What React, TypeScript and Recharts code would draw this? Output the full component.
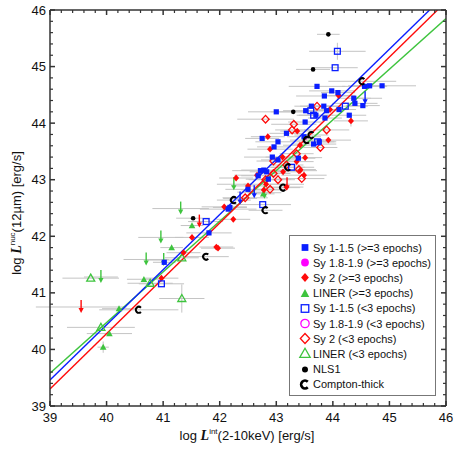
import { ScatterChart, Scatter, XAxis, YAxis, ErrorBar, ReferenceLine } from "recharts";

// axis ticks
const majorTicks = [39, 40, 41, 42, 43, 44, 45, 46];
const minorTicks = [
  39.2, 39.4, 39.6, 39.8, 40.2, 40.4, 40.6, 40.8, 41.2, 41.4, 41.6, 41.8, 42.2, 42.4,
  42.6, 42.8, 43.2, 43.4, 43.6, 43.8, 44.2, 44.4, 44.6, 44.8, 45.2, 45.4, 45.6, 45.8,
];

// [log Lx, log L12, x error, y error]
const sy1Many = [
  [43.0, 44.2, 0.5], [42.75, 43.73, 0.3], [42.96, 43.58, 0.3], [43.03, 43.67, 0.4],
  [43.18, 43.82, 0.3], [43.51, 44.02, 0.3], [42.93, 43.4, 0.5], [43.03, 43.35, 0.3],
  [43.39, 43.38, 0.3], [42.78, 43.17, 0.4], [42.72, 43.16, 0.5], [42.83, 43.14, 0.3],
  [42.86, 43.01, 0.4], [43.49, 43.76, 0.3], [43.66, 43.63, 0.4], [43.76, 43.67, 0.3],
  [43.72, 44.65, 0.5], [44.56, 44.65, 0.4], [44.65, 44.66, 0.3], [44.87, 44.66, 0.6],
  [43.98, 44.57, 0.4], [44.09, 44.54, 0.3], [43.85, 44.48, 0.5], [44.37, 44.44, 0.3],
  [44.39, 44.35, 0.4], [44.53, 44.31, 0.3], [43.62, 44.3, 0.3], [43.84, 44.3, 0.3],
  [43.89, 44.22, 0.3], [44.11, 44.24, 0.3], [43.52, 44.22, 0.4], [43.7, 44.14, 0.3],
  [43.86, 44.09, 0.3], [44.29, 44.14, 0.3], [42.5, 42.83, 0.4], [42.15, 42.48, 0.5],
  [42.18, 42.51, 0.3], [41.81, 42.06, 0.4], [41.02, 41.54, 0.2], [42.68, 43.07, 0.3],
];
const sy1Few = [
  [44.08, 45.27, 0.5, 0.15], [44.04, 44.98, 0.4], [44.22, 44.3, 0.4], [43.61, 44.22, 0.3],
  [43.66, 44.14, 0.3], [43.73, 43.67, 0.3], [43.27, 43.22, 0.4], [42.76, 42.56, 0.5],
  [41.76, 42.26, 0.3], [40.97, 41.16, 0.4],
];
const sy2Many = [
  [44.1, 44.49, 0.3], [43.95, 44.24, 0.3], [44.32, 44.04, 0.3, 0.1], [43.37, 43.86, 0.3],
  [42.85, 43.76, 0.3], [42.89, 43.54, 0.4], [43.42, 43.61, 0.3], [43.92, 43.7, 0.4],
  [43.51, 43.39, 0.3], [43.11, 43.4, 0.3], [43.36, 43.32, 0.3], [43.12, 43.14, 0.3],
  [43.49, 43.08, 0.4, 0.1], [42.66, 43.08, 0.4], [43.18, 42.87, 0.3], [42.78, 42.82, 0.4],
  [42.29, 43.03, 0.3], [42.5, 42.89, 0.3], [42.82, 42.92, 0.4], [42.08, 42.52, 0.4],
  [42.24, 42.3, 0.3], [41.51, 41.98, 0.3], [41.94, 41.81, 0.3], [41.97, 41.79, 0.3],
  [41.36, 41.71, 0.3], [40.97, 41.26, 0.3], [43.42, 43.16, 0.3],
];
const sy2Few = [
  [42.81, 44.07, 0.5], [43.31, 43.98, 0.4], [43.28, 43.88, 0.3], [43.89, 43.88, 0.4],
  [43.72, 44.3, 0.3], [43.78, 43.57, 0.3], [43.36, 43.46, 0.3], [42.95, 43.33, 0.3],
  [43.18, 43.26, 0.3], [43.4, 43.18, 0.3], [43.45, 43.02, 0.4], [42.95, 43.11, 0.3],
  [42.89, 42.83, 0.3], [42.81, 43.0, 0.3], [42.45, 42.68, 0.4], [43.03, 43.0, 0.3],
];
const linerMany = [
  [41.15, 41.8, 0.2], [40.66, 41.24, 0.3], [40.22, 40.72, 0.3], [40.05, 40.28, 0.4],
  [39.94, 40.04, 0.1, 0.1], [41.51, 42.19, 0.2], [42.77, 42.75, 0.2],
];
const linerFew = [
  [39.72, 41.26, 0.5], [41.33, 41.62, 0.3], [40.77, 41.17, 0.4], [41.33, 40.9, 0.4, 0.25],
  [39.9, 40.39, 0.6],
];
const linerLimits = [
  [39.9, 41.28, 0.3], [40.96, 41.98, 0.4], [40.7, 41.59, 0.4], [41.01, 41.58, 0.3],
  [41.31, 42.49, 0.5], [42.25, 42.92, 0.3], [42.79, 42.77, 0.3],
];
const sy2Limits = [[39.55, 40.75, 0.8], [41.64, 42.26, 0.2], [43.19, 42.92, 0.3]];
const sy1Limits = [[42.36, 42.67, 0.3], [42.61, 42.78, 0.3], [44.57, 44.44, 0.3]];
const nls1 = [[43.92, 45.57, 0.2], [43.65, 44.95, 0.3], [43.3, 44.2, 0.4], [41.53, 42.32, 0.3]];
const comptonThick = [
  [44.52, 44.74, 0.6], [43.54, 43.7, 0.3], [43.62, 43.79, 0.3], [43.21, 43.22, 0.3],
  [43.12, 42.86, 0.3], [42.81, 42.46, 0.3], [42.25, 42.64, 0.3], [41.76, 41.64, 0.4],
  [40.57, 40.7, 0.7],
];

// fitted relations (end points)
const fitSy1 = [{ x: 39, y: 39.46 }, { x: 45.71, y: 46 }];
const fitSy2 = [{ x: 39, y: 39.3 }, { x: 45.85, y: 46 }];
const fitLiner = [{ x: 39, y: 39.58 }, { x: 46, y: 45.85 }];

const BLUE = "#0a1eff";
const RED = "#ff0a0a";
const GREEN = "#3ec43e";
const MAGENTA = "#ff00ff";
const FONT = "'Liberation Sans', Arial, Helvetica, sans-serif";

const toPts = (rows: number[][]) =>
  rows.map(([x, y, xe = 0, ye = 0]) => ({ x, y, xe, ye }));

type Kind = "sq" | "osq" | "dia" | "odia" | "tri" | "otri" | "circ" | "ocirc" | "dot" | "ct" | "arrow";

function Marker({ cx, cy, kind, color = "#000", s = 1 }: { cx: number; cy: number; kind: Kind; color?: string; s?: number }) {
  if (cx == null || cy == null) return null;
  switch (kind) {
    case "sq":
      return <rect x={cx - 2.6 * s} y={cy - 2.6 * s} width={5.2 * s} height={5.2 * s} fill={BLUE} />;
    case "osq":
      return <rect x={cx - 2.9 * s} y={cy - 2.9 * s} width={5.8 * s} height={5.8 * s} fill="none" stroke={BLUE} strokeWidth={1.3} />;
    case "dia":
      return <path d={`M${cx} ${cy - 3.4 * s}L${cx + 3 * s} ${cy}L${cx} ${cy + 3.4 * s}L${cx - 3 * s} ${cy}Z`} fill={RED} />;
    case "odia":
      return <path d={`M${cx} ${cy - 3.8 * s}L${cx + 3.6 * s} ${cy}L${cx} ${cy + 3.8 * s}L${cx - 3.6 * s} ${cy}Z`} fill="none" stroke={RED} strokeWidth={1.3} />;
    case "tri":
      return <path d={`M${cx} ${cy - 3.4 * s}L${cx + 3.3 * s} ${cy + 2.6 * s}L${cx - 3.3 * s} ${cy + 2.6 * s}Z`} fill={GREEN} />;
    case "otri":
      return <path d={`M${cx} ${cy - 4 * s}L${cx + 4 * s} ${cy + 3 * s}L${cx - 4 * s} ${cy + 3 * s}Z`} fill="none" stroke={GREEN} strokeWidth={1.3} />;
    case "circ":
      return <circle cx={cx} cy={cy} r={3 * s} fill={MAGENTA} />;
    case "ocirc":
      return <circle cx={cx} cy={cy} r={3.2 * s} fill="none" stroke={MAGENTA} strokeWidth={1.3} />;
    case "dot":
      return <circle cx={cx} cy={cy} r={2.3 * s} fill="#000" />;
    case "ct": {
      const r = 3 * s;
      const dx = r * Math.cos(Math.PI / 4);
      const dy = r * Math.sin(Math.PI / 4);
      return (
        <path
          d={`M${cx + dx} ${cy - dy}A${r} ${r} 0 1 0 ${cx + dx} ${cy + dy}`}
          fill="none"
          stroke="#000"
          strokeWidth={2 * s}
        />
      );
    }
    case "arrow":
      return (
        <g>
          <line x1={cx} y1={cy - 7} x2={cx} y2={cy + 2} stroke={color} strokeWidth={1.4} />
          <path d={`M${cx - 2.6} ${cy + 1}L${cx + 2.6} ${cy + 1}L${cx} ${cy + 6}Z`} fill={color} />
        </g>
      );
  }
  return null;
}

const series: { name: string; rows: number[][]; kind: Kind; color?: string }[] = [
  { name: "liner", rows: linerMany, kind: "tri" },
  { name: "linerFew", rows: linerFew, kind: "otri" },
  { name: "linerLim", rows: linerLimits, kind: "arrow", color: GREEN },
  { name: "sy2", rows: sy2Many, kind: "dia" },
  { name: "sy2Few", rows: sy2Few, kind: "odia" },
  { name: "sy2Lim", rows: sy2Limits, kind: "arrow", color: RED },
  { name: "sy1", rows: sy1Many, kind: "sq" },
  { name: "sy1Few", rows: sy1Few, kind: "osq" },
  { name: "sy1Lim", rows: sy1Limits, kind: "arrow", color: BLUE },
  { name: "nls1", rows: nls1, kind: "dot" },
  { name: "ct", rows: comptonThick, kind: "ct" },
];

const legendItems: { label: string; kind: Kind }[] = [
  { label: "Sy 1-1.5 (>=3 epochs)", kind: "sq" },
  { label: "Sy 1.8-1.9 (>=3 epochs)", kind: "circ" },
  { label: "Sy 2 (>=3 epochs)", kind: "dia" },
  { label: "LINER (>=3 epochs)", kind: "tri" },
  { label: "Sy 1-1.5 (<3 epochs)", kind: "osq" },
  { label: "Sy 1.8-1.9 (<3 epochs)", kind: "ocirc" },
  { label: "Sy 2 (<3 epochs)", kind: "odia" },
  { label: "LINER (<3 epochs)", kind: "otri" },
  { label: "NLS1", kind: "dot" },
  { label: "Compton-thick", kind: "ct" },
];

const AXIS = "#333";
const THIN = 0.001; // axes must have a positive size to render
const tickFont = { fontSize: 13, fill: "#111", fontFamily: FONT };

export default function App() {
  return (
    <div style={{ position: "absolute", left: 0, top: 0, width: 463, height: 463, background: "#fff" }}>
      <ScatterChart width={463} height={463} margin={{ top: 10, right: 17, bottom: 57, left: 50 }}>
        <XAxis xAxisId="b" type="number" dataKey="x" domain={[39, 46]} allowDataOverflow ticks={majorTicks}
          interval={0} height={THIN} tickSize={-5} tickMargin={12} tick={tickFont}
          stroke={AXIS} strokeWidth={1.5} />
        <XAxis xAxisId="bm" type="number" dataKey="x" domain={[39, 46]} allowDataOverflow ticks={minorTicks}
          interval={0} height={THIN} tickSize={-3} tickFormatter={() => ""} axisLine={false} stroke={AXIS} strokeWidth={1.2} />
        <XAxis xAxisId="t" orientation="top" type="number" dataKey="x" domain={[39, 46]} allowDataOverflow
          ticks={majorTicks} interval={0} height={THIN} tickSize={-5} tickFormatter={() => ""} stroke={AXIS} strokeWidth={1.5} />
        <XAxis xAxisId="tm" orientation="top" type="number" dataKey="x" domain={[39, 46]} allowDataOverflow
          ticks={minorTicks} interval={0} height={THIN} tickSize={-3} tickFormatter={() => ""} axisLine={false} stroke={AXIS} strokeWidth={1.2} />
        <YAxis yAxisId="l" type="number" dataKey="y" domain={[39, 46]} allowDataOverflow ticks={majorTicks}
          interval={0} width={THIN} tickSize={-5} tickMargin={9} tick={tickFont} stroke={AXIS} strokeWidth={1.5} />
        <YAxis yAxisId="lm" type="number" dataKey="y" domain={[39, 46]} allowDataOverflow ticks={minorTicks}
          interval={0} width={THIN} tickSize={-3} tickFormatter={() => ""} axisLine={false} stroke={AXIS} strokeWidth={1.2} />
        <YAxis yAxisId="r" orientation="right" type="number" dataKey="y" domain={[39, 46]} allowDataOverflow
          ticks={majorTicks} interval={0} width={THIN} tickSize={-5} tickFormatter={() => ""} stroke={AXIS} strokeWidth={1.5} />
        <YAxis yAxisId="rm" orientation="right" type="number" dataKey="y" domain={[39, 46]} allowDataOverflow
          ticks={minorTicks} interval={0} width={THIN} tickSize={-3} tickFormatter={() => ""} axisLine={false} stroke={AXIS} strokeWidth={1.2} />

        {series.map((s) => (
          <Scatter key={s.name} name={s.name} xAxisId="b" yAxisId="l" data={toPts(s.rows)} isAnimationActive={false}
            shape={(p: any) => <Marker cx={p.cx} cy={p.cy} kind={s.kind} color={s.color} />}>
            <ErrorBar dataKey="xe" direction="x" width={0} stroke="#c4c4c4" strokeWidth={1} />
            <ErrorBar dataKey="ye" direction="y" width={0} stroke="#c4c4c4" strokeWidth={1} />
          </Scatter>
        ))}

        <ReferenceLine xAxisId="b" yAxisId="l" segment={fitLiner} stroke={GREEN} strokeWidth={1.4} ifOverflow="hidden" />
        <ReferenceLine xAxisId="b" yAxisId="l" segment={fitSy2} stroke={RED} strokeWidth={1.4} ifOverflow="hidden" />
        <ReferenceLine xAxisId="b" yAxisId="l" segment={fitSy1} stroke={BLUE} strokeWidth={1.4} ifOverflow="hidden" />
      </ScatterChart>

      <svg width={463} height={463} style={{ position: "absolute", left: 0, top: 0, pointerEvents: "none" }}>
        <text x={247} y={440} textAnchor="middle" fontFamily={FONT} fontSize={13} fill="#111">
          {"log "}
          <tspan fontFamily="'Liberation Serif', 'Times New Roman', serif" fontStyle="italic" fontWeight="bold" fontSize={14}>L</tspan>
          <tspan fontSize={8} dy={-6}>int</tspan>
          <tspan dy={6}>(2-10keV) [erg/s]</tspan>
        </text>
        <text transform="translate(21,213) rotate(-90)" textAnchor="middle" fontFamily={FONT} fontSize={13} fill="#111">
          {"log "}
          <tspan fontFamily="'Liberation Serif', 'Times New Roman', serif" fontStyle="italic" fontWeight="bold" fontSize={14}>L</tspan>
          <tspan fontSize={8} dy={-6}>nuc</tspan>
          <tspan dy={6}>(12µm) [erg/s]</tspan>
        </text>
      </svg>

      <div style={{
        position: "absolute", left: 289, top: 235, width: 147, height: 161, boxSizing: "border-box",
        border: "1px solid #777", background: "#fff", fontFamily: FONT, fontSize: 11, color: "#111",
      }}>
        {legendItems.map((it, i) => (
          <div key={it.label} style={{ position: "absolute", left: 0, top: 4 + i * 15.2, height: 15, display: "flex", alignItems: "center", whiteSpace: "nowrap" }}>
            <svg width={23} height={15} style={{ flex: "none" }}>
              <Marker cx={15} cy={7.5} kind={it.kind} s={1.3} />
            </svg>
            <span>{it.label}</span>
          </div>
        ))}
      </div>
    </div>
  );
}
